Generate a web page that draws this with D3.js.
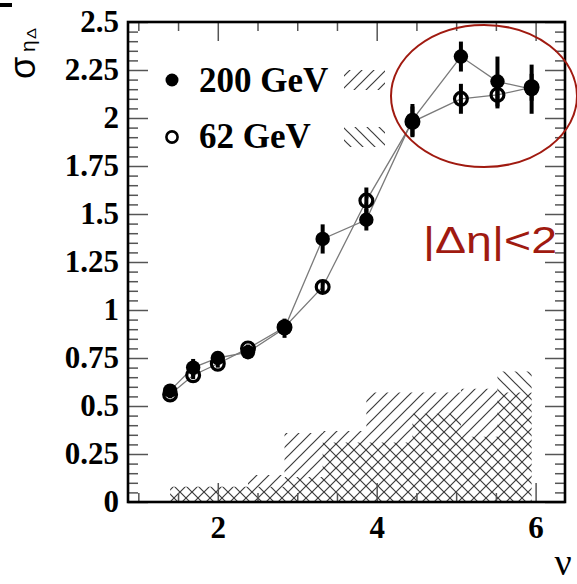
<!DOCTYPE html>
<html>
<head>
<meta charset="utf-8">
<script src="https://cdn.jsdelivr.net/npm/d3@7"></script>
<style>
  html, body { margin: 0; padding: 0; background: #fff; }
  svg { display: block; }
</style>
</head>
<body>
<svg id="chart" width="577" height="584"></svg>
<script>
// Mean number of binary collisions per participant (nu) for each centrality point
const nu = [1.40, 1.69, 2.00, 2.38, 2.84, 3.32, 3.87, 4.45, 5.06, 5.52, 5.95];

// Near-side width sigma_{eta Delta} for |Delta eta| < 2
const sigma200 = [0.58, 0.70, 0.75, 0.78, 0.905, 1.37, 1.47, 1.99, 2.32, 2.19, 2.15];
const err200   = [0.02, 0.045, 0.02, 0.02, 0.05, 0.076, 0.056, 0.083, 0.078, 0.13, 0.128];
const sigma62  = [0.56, 0.66, 0.72, 0.80, 0.91, 1.12, 1.57, 1.98, 2.10, 2.12, 2.16];
const err62    = [0.02, 0.02, 0.02, 0.02, 0.03, 0.03, 0.068, 0.08, 0.078, 0.07, 0.07];

// Systematic uncertainty bands (step from each point to the next)
const sys200 = [0.08, 0.08, 0.08, 0.14, 0.36, 0.37, 0.57, 0.57, 0.59, 0.57, 0.57];
const sys62  = [0.08, 0.08, 0.08, 0.08, 0.13, 0.31, 0.31, 0.46, 0.34, 0.68, 0.68];

// Axis ticks
const xMajor = [2, 4, 6];
const xMinor = [1, 1.5, 2.5, 3, 3.5, 4.5, 5, 5.5];
const yMajor = [0, 0.25, 0.5, 0.75, 1, 1.25, 1.5, 1.75, 2, 2.25, 2.5];
const yTickLabels = ["0", "0.25", "0.5", "0.75", "1", "1.25", "1.5", "1.75", "2", "2.25", "2.5"];
const xTickLabels = ["2", "4", "6"];
const yMinor = d3.range(0, 2.5001, 0.05).map(v => +v.toFixed(2)).filter(v => Math.abs(v / 0.25 - Math.round(v / 0.25)) > 1e-6);

const legendLabels = ["200 GeV", "62 GeV"];

const plot = { left: 128, right: 565, top: 22, bottom: 502 };

const svg = d3.select("#chart");

const x = d3.scaleLinear().domain([0.87, 6.37]).range([plot.left, plot.right]);
const y = d3.scaleLinear().domain([0, 2.5]).range([plot.bottom, plot.top]);

const serif = "'Liberation Serif', 'Times New Roman', serif";
const sans = "'Liberation Sans', Arial, Helvetica, sans-serif";
const red = "#a01a10";

// Hatch patterns
const defs = svg.append("defs");
const hatch = (id, d) => {
  defs.append("pattern")
    .attr("id", id)
    .attr("patternUnits", "userSpaceOnUse")
    .attr("width", 12).attr("height", 12)
    .append("path")
    .attr("d", d)
    .attr("stroke", "#3c3c3c")
    .attr("stroke-width", 1.2)
    .attr("fill", "none");
};
hatch("hatchFwd", "M0,12 L12,0 M-3,3 L3,-3 M9,15 L15,9");
hatch("hatchBack", "M0,0 L12,12 M-3,9 L3,15 M9,-3 L15,3");

defs.append("clipPath").attr("id", "plotClip")
  .append("rect")
  .attr("x", plot.left).attr("y", plot.top)
  .attr("width", plot.right - plot.left).attr("height", plot.bottom - plot.top);

// Systematic bands
const band = d3.area()
  .x((d, i) => x(nu[i]))
  .y0(y(0))
  .y1(d => y(d))
  .curve(d3.curveStepAfter);

const bands = svg.append("g").attr("clip-path", "url(#plotClip)");
bands.append("path").attr("d", band(sys200)).attr("fill", "url(#hatchFwd)");
bands.append("path").attr("d", band(sys62)).attr("fill", "url(#hatchBack)");

// Axes: ticks pointing inward on all four sides
const tickColor = "#555";
function styleAxis(g) {
  g.select(".domain").remove();
  g.selectAll(".tick line").attr("stroke", tickColor).attr("stroke-width", 1.5);
}

svg.append("g")
  .attr("transform", `translate(0,${plot.bottom})`)
  .call(d3.axisBottom(x).tickValues(xMajor).tickSizeInner(-19).tickSizeOuter(0).tickPadding(14)
    .tickFormat((d, i) => xTickLabels[i]))
  .call(styleAxis)
  .call(g => g.selectAll("text")
    .attr("font-family", serif).attr("font-weight", "bold").attr("font-size", 31).attr("fill", "#000"));

svg.append("g")
  .attr("transform", `translate(0,${plot.bottom})`)
  .call(d3.axisBottom(x).tickValues(xMinor).tickSizeInner(-9).tickSizeOuter(0).tickFormat(""))
  .call(styleAxis);

svg.append("g")
  .attr("transform", `translate(0,${plot.top})`)
  .call(d3.axisTop(x).tickValues(xMajor).tickSizeInner(-19).tickSizeOuter(0).tickFormat(""))
  .call(styleAxis);

svg.append("g")
  .attr("transform", `translate(0,${plot.top})`)
  .call(d3.axisTop(x).tickValues(xMinor).tickSizeInner(-9).tickSizeOuter(0).tickFormat(""))
  .call(styleAxis);

svg.append("g")
  .attr("transform", `translate(${plot.left},0)`)
  .call(d3.axisLeft(y).tickValues(yMajor).tickSizeInner(-20).tickSizeOuter(0).tickPadding(9)
    .tickFormat((d, i) => yTickLabels[i]))
  .call(styleAxis)
  .call(g => g.selectAll("text")
    .attr("font-family", serif).attr("font-weight", "bold").attr("font-size", 31).attr("fill", "#000"));

svg.append("g")
  .attr("transform", `translate(${plot.left},0)`)
  .call(d3.axisLeft(y).tickValues(yMinor).tickSizeInner(-10).tickSizeOuter(0).tickFormat(""))
  .call(styleAxis);

svg.append("g")
  .attr("transform", `translate(${plot.right},0)`)
  .call(d3.axisRight(y).tickValues(yMajor).tickSizeInner(-20).tickSizeOuter(0).tickFormat(""))
  .call(styleAxis);

svg.append("g")
  .attr("transform", `translate(${plot.right},0)`)
  .call(d3.axisRight(y).tickValues(yMinor).tickSizeInner(-10).tickSizeOuter(0).tickFormat(""))
  .call(styleAxis);

// Frame
svg.append("rect")
  .attr("x", plot.left).attr("y", plot.top)
  .attr("width", plot.right - plot.left).attr("height", plot.bottom - plot.top)
  .attr("fill", "none").attr("stroke", "#000").attr("stroke-width", 2.6);

// Connecting lines
const line = d3.line().x((d, i) => x(nu[i])).y(d => y(d));
[sigma200, sigma62].forEach(s => {
  svg.append("path").attr("d", line(s))
    .attr("fill", "none").attr("stroke", "#7a7a7a").attr("stroke-width", 1.3);
});

// Error bars
[[sigma200, err200], [sigma62, err62]].forEach(([s, e]) => {
  svg.append("g").selectAll("line").data(s).join("line")
    .attr("x1", (d, i) => x(nu[i])).attr("x2", (d, i) => x(nu[i]))
    .attr("y1", (d, i) => y(d - e[i])).attr("y2", (d, i) => y(d + e[i]))
    .attr("stroke", "#000").attr("stroke-width", 4);
});

// Markers
svg.append("g").selectAll("circle").data(sigma200).join("circle")
  .attr("cx", (d, i) => x(nu[i])).attr("cy", d => y(d))
  .attr("r", 7.2).attr("fill", "#000");

svg.append("g").selectAll("circle").data(sigma62).join("circle")
  .attr("cx", (d, i) => x(nu[i])).attr("cy", d => y(d))
  .attr("r", 6.4).attr("fill", "none").attr("stroke", "#000").attr("stroke-width", 3.2);

// Legend
const legend = svg.append("g");
legend.append("circle").attr("cx", 172).attr("cy", 80).attr("r", 6.5).attr("fill", "#000");
legend.append("circle").attr("cx", 172).attr("cy", 137).attr("r", 5.6)
  .attr("fill", "none").attr("stroke", "#000").attr("stroke-width", 2.6);
legend.selectAll("text").data(legendLabels).join("text")
  .attr("x", 199).attr("y", (d, i) => i === 0 ? 92 : 148)
  .attr("font-family", serif).attr("font-weight", "bold").attr("font-size", 35)
  .text(d => d);
legend.append("rect").attr("x", 344).attr("y", 70).attr("width", 41).attr("height", 20)
  .attr("fill", "url(#hatchFwd)");
legend.append("rect").attr("x", 344).attr("y", 127).attr("width", 41).attr("height", 20)
  .attr("fill", "url(#hatchBack)");

// Highlight of the most central points
svg.append("ellipse")
  .attr("cx", 484).attr("cy", 96).attr("rx", 93).attr("ry", 71)
  .attr("fill", "none").attr("stroke", red).attr("stroke-width", 2);

svg.append("text")
  .attr("x", 423).attr("y", 253)
  .attr("font-family", sans).attr("font-size", 36).attr("fill", red)
  .attr("textLength", 134).attr("lengthAdjust", "spacingAndGlyphs")
  .text("|Δη|<2");

// Axis titles
svg.append("text")
  .attr("x", 563).attr("y", 575)
  .attr("text-anchor", "middle")
  .attr("font-family", serif).attr("font-size", 38)
  .text("ν");

const yTitle = svg.append("g").attr("transform", "translate(35,79) rotate(-90)");
yTitle.append("text").attr("x", 0).attr("y", 0)
  .attr("font-family", sans).attr("font-size", 36).text("σ");
yTitle.append("text").attr("x", 27).attr("y", 0)
  .attr("font-family", sans).attr("font-size", 21).text("η");
yTitle.append("text").attr("x", 40).attr("y", 1)
  .attr("font-family", sans).attr("font-size", 12)
  .attr("textLength", 11).attr("lengthAdjust", "spacingAndGlyphs").text("Δ");

// Small mark at the top-left corner
svg.append("rect").attr("x", 0).attr("y", 3).attr("width", 12).attr("height", 4).attr("fill", "#000");
</script>
</body>
</html>
